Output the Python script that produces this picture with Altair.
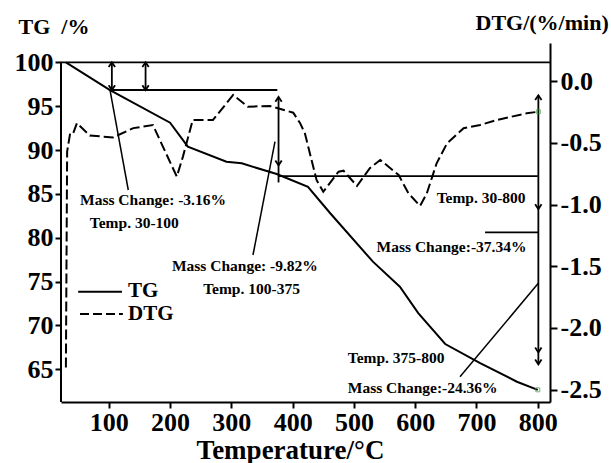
import altair as alt
import pandas as pd

# ---- TG curve (mass %, left axis) ----
tg_temp = [30, 102, 200, 229, 292, 317, 374, 425, 461, 531, 575, 605, 649, 706, 766, 800]
tg_mass = [100.0, 96.84, 93.11, 90.38, 88.67, 88.48, 87.26, 85.81, 82.82, 77.27,
           74.42, 71.41, 67.88, 65.71, 63.58, 62.66]

# ---- DTG curve (%/min, right axis) ----
dtg_temp = [30, 32, 37, 42, 48, 69, 107, 140, 172, 211, 221, 237, 270, 303, 327, 363,
            401, 412, 420, 439, 450, 475, 483, 505, 526, 543, 573, 589, 608, 619, 635,
            652, 679, 706, 733, 782, 801]
dtg_rate = [-2.32, -0.57, -0.42, -0.42, -0.34, -0.44, -0.455, -0.38, -0.355, -0.773,
            -0.611, -0.314, -0.314, -0.111, -0.206, -0.20, -0.255, -0.338, -0.422,
            -0.80, -0.895, -0.733, -0.725, -0.849, -0.705, -0.638, -0.76, -0.908,
            -1.011, -0.908, -0.665, -0.503, -0.381, -0.355, -0.314, -0.26, -0.247]

# ---- tick values ----
x_ticks = [100, 200, 300, 400, 500, 600, 700, 800]
tg_ticks = [65, 70, 75, 80, 85, 90, 95, 100]
dtg_ticks = [0.0, -0.5, -1.0, -1.5, -2.0, -2.5]

# ---- annotation texts ----
note_text = ["Mass Change: -3.16%", "Temp. 30-100", "Mass Change: -9.82%", "Temp. 100-375",
             "Temp. 30-800", "Mass Change:-37.34%", "Temp. 375-800", "Mass Change:-24.36%"]
note_T = [53, 69, 203, 254, 635, 537, 490, 490]
note_TG = [84.3, 81.68, 76.77, 74.12, 84.49, 78.97, 66.25, 62.83]

FONT = "Liberation Serif"

tg_df = pd.DataFrame({"T": tg_temp, "TG": tg_mass})
dtg_df = pd.DataFrame({"T": dtg_temp, "DTG": dtg_rate})

x_scale = alt.Scale(domain=[22, 820], nice=False, zero=False)
tg_scale = alt.Scale(domain=[61.27, 102.2], nice=False, zero=False)
dtg_scale = alt.Scale(domain=[-2.6, 0.31], nice=False, zero=False)

x_axis = alt.Axis(
    values=x_ticks, title="Temperature/°C", grid=False,
    labelFont=FONT, labelFontSize=26, labelFontWeight="bold", labelColor="black",
    labelPadding=1, tickSize=6, tickWidth=2, tickColor="black",
    domainColor="black", domainWidth=2,
    titleFont=FONT, titleFontSize=27, titleFontWeight="bold", titleColor="black",
    titleX=229, titleY=56, titleBaseline="alphabetic", titleAlign="center",
)
tg_axis = alt.Axis(
    values=tg_ticks, orient="left", grid=False, domain=False,
    labelFont=FONT, labelFontSize=26, labelFontWeight="bold", labelColor="black",
    labelPadding=2, tickSize=6, tickWidth=2, tickColor="black",
    title="TG\u00a0 /%", titleAngle=0, titleAlign="left", titleBaseline="alphabetic",
    titleX=-43, titleY=-10,
    titleFont=FONT, titleFontSize=22, titleFontWeight="bold", titleColor="black",
)
dtg_axis = alt.Axis(
    values=dtg_ticks, orient="right", grid=False,
    labelExpr="datum.value == 0 ? '0.0' : '-' + format(-datum.value, '.1f')",
    labelFont=FONT, labelFontSize=26, labelFontWeight="bold", labelColor="black",
    labelPadding=3, tickSize=7, tickWidth=2, tickColor="black",
    domainColor="black", domainWidth=2,
    title="DTG/(%/min)", titleAngle=0, titleAlign="left", titleBaseline="alphabetic",
    titleX=-75, titleY=-14,
    titleFont=FONT, titleFontSize=22, titleFontWeight="bold", titleColor="black",
)


def xq(field="T"):
    return alt.X(f"{field}:Q", scale=x_scale)


def yq(field="TG"):
    return alt.Y(f"{field}:Q", scale=tg_scale)


# ---- curves ----
tg_line = alt.Chart(tg_df).mark_line(color="black", strokeWidth=2).encode(
    x=alt.X("T:Q", scale=x_scale, axis=x_axis),
    y=alt.Y("TG:Q", scale=tg_scale, axis=tg_axis),
)
dtg_line = alt.Chart(dtg_df).mark_line(color="black", strokeWidth=2, strokeDash=[10, 4]).encode(
    x=xq(),
    y=alt.Y("DTG:Q", scale=dtg_scale, axis=dtg_axis),
)
dtg_end = alt.Chart(dtg_df.tail(1)).mark_point(
    shape="square", size=16, color="#3a9a3a", filled=False, strokeWidth=1
).encode(x=xq(), y=alt.Y("DTG:Q", scale=dtg_scale))

# ---- guide lines in TG coordinates ----
hlines = pd.DataFrame({"T": [22, 100, 377, 714], "T2": [820, 375, 800, 801],
                       "TG": [100, 96.84, 87.02, 80.61]})
h_rules = alt.Chart(hlines).mark_rule(color="black", strokeWidth=1.8).encode(
    x=xq(), x2="T2:Q", y=yq())

left_edge = pd.DataFrame({"T": [22], "TG": [61.27], "TG2": [100]})
edge_rule = alt.Chart(left_edge).mark_rule(color="black", strokeWidth=2).encode(
    x=xq(), y=yq(), y2="TG2:Q")

vlines = pd.DataFrame({"T": [105, 160, 377, 801], "TG": [100, 100, 96.05, 96.24],
                       "TG2": [96.84, 96.84, 86.3, 65.56]})
v_rules = alt.Chart(vlines).mark_rule(color="black", strokeWidth=1.8).encode(
    x=xq(), y=yq(), y2="TG2:Q")

heads_up = pd.DataFrame({"T": [105, 160, 377, 801], "TG": [100, 100, 96.05, 96.24]})
heads_down = pd.DataFrame({"T": [105, 160, 377, 801, 801, 801],
                           "TG": [96.84, 96.84, 88.26, 83.27, 66.93, 65.56]})
up_marks = alt.Chart(heads_up).mark_point(
    shape="M-0.8,1.2L0,0L0.8,1.2", size=64, filled=False, color="black", strokeWidth=1.8, opacity=1
).encode(x=xq(), y=yq())
down_marks = alt.Chart(heads_down).mark_point(
    shape="M-0.8,-1.2L0,0L0.8,-1.2", size=64, filled=False, color="black", strokeWidth=1.8, opacity=1
).encode(x=xq(), y=yq())

leaders = pd.DataFrame({"T": [102, 371.2, 800.9], "TG": [96.84, 90.95, 74.8],
                        "T2": [131.8, 335.3, 673.1], "TG2": [85.44, 78.03, 64.15]})
leader_rules = alt.Chart(leaders).mark_rule(color="black", strokeWidth=1.5).encode(
    x=xq(), y=yq(), x2="T2:Q", y2="TG2:Q")

notes = pd.DataFrame({"label": note_text, "T": note_T, "TG": note_TG})
note_marks = alt.Chart(notes).mark_text(
    font=FONT, fontSize=15.5, fontWeight="bold", align="left", baseline="middle", color="black"
).encode(x=xq(), y=yq(), text="label:N")

tg_end = alt.Chart(tg_df.tail(1)).mark_point(
    shape="square", size=16, color="#3a9a3a", filled=False, strokeWidth=1
).encode(x=xq(), y=yq())

# ---- legend drawn inside the plot ----
legend_lines = pd.DataFrame({"series": ["TG", "DTG"], "T": [50, 53], "T2": [121.5, 123],
                             "TG": [73.85, 71.3]})
legend_solid = alt.Chart(legend_lines.iloc[[0]]).mark_rule(color="black", strokeWidth=2).encode(
    x=xq(), x2="T2:Q", y=yq())
legend_dash = alt.Chart(legend_lines.iloc[[1]]).mark_rule(
    color="black", strokeWidth=2, strokeDash=[9, 4]).encode(x=xq(), x2="T2:Q", y=yq())
legend_text = pd.DataFrame({"label": ["TG", "DTG"], "T": [131.3, 131.3], "TG": [73.95, 71.25]})
legend_labels = alt.Chart(legend_text).mark_text(
    font=FONT, fontSize=21, fontWeight="bold", align="left", baseline="middle", color="black"
).encode(x=xq(), y=yq(), text="label:N")

tg_group = alt.layer(
    tg_line, h_rules, edge_rule, v_rules, up_marks, down_marks, leader_rules,
    note_marks, tg_end, legend_solid, legend_dash, legend_labels,
)
dtg_group = alt.layer(dtg_line, dtg_end)

chart = alt.layer(tg_group, dtg_group).resolve_scale(y="independent").properties(
    width=489, height=359,
    autosize=alt.AutoSizeParams(type="none"),
    padding={"left": 61, "top": 43, "right": 61, "bottom": 61},
    background="white",
).configure_view(stroke=None)

chart.save("out.html", embed_options={"renderer": "svg", "actions": False})
